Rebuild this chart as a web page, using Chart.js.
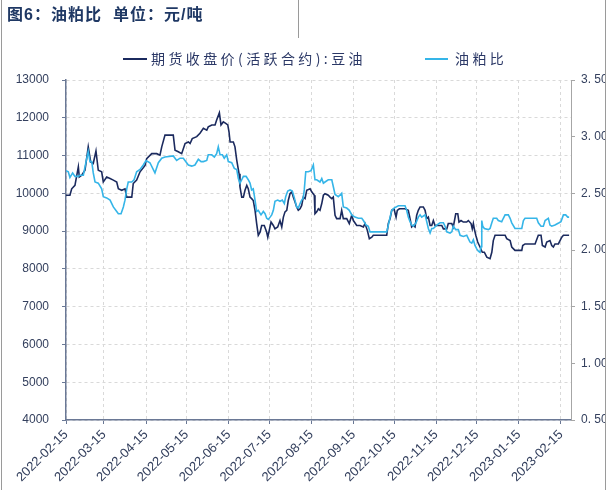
<!DOCTYPE html>
<html>
<head>
<meta charset="utf-8">
<script src="https://cdn.jsdelivr.net/npm/chart.js@4"></script>
<style>
  html, body { margin: 0; padding: 0; background: #fff; }
  #wrap { width: 607px; height: 490px; }
</style>
</head>
<body>
<div id="wrap"><canvas id="chart" width="607" height="490"></canvas></div>
<script>
// days counted from 2022-02-15
const tickDays = [0, 28, 59, 89, 120, 150, 181, 212, 242, 273, 303, 334, 365];
const tickLabels = ["2022-02-15", "2022-03-15", "2022-04-15", "2022-05-15", "2022-06-15",
  "2022-07-15", "2022-08-15", "2022-09-15", "2022-10-15", "2022-11-15", "2022-12-15",
  "2023-01-15", "2023-02-15"];

// 期货收盘价(活跃合约):豆油, 元/吨
const oilDays = [0, 2.9, 4.2, 6.6, 9.1, 9.8, 11.6, 14.0, 16.4, 18.2,
  20.1, 22.1, 23.8, 26.3, 27.5, 30.0, 32.5, 34.9, 37.4, 38.6,
  41.1, 43.5, 44.8, 48.5, 49.6, 52.1, 54.6, 58.3, 59.5, 63.2,
  66.9, 69.3, 70.6, 73.0, 79.1, 80.4, 82.8, 85.3, 87.8, 90.2,
  91.5, 93.1, 96.4, 98.8, 101.3, 103.8, 104.9, 107.5, 109.9, 111.1,
  113.1, 114.3, 116.0, 117.8, 119.3, 120.2, 121.0, 123.4, 124.6, 125.9,
  127.6, 128.3, 129.6, 130.8, 132.0, 133.3, 134.4, 135.7, 136.9, 138.1,
  139.4, 140.6, 141.8, 143.1, 144.3, 146.2, 148.0, 148.8, 149.9, 151.2,
  152.9, 154.1, 156.1, 157.8, 159.1, 160.3, 161.5, 162.8, 163.9, 165.2,
  166.5, 167.6, 168.9, 170.1, 171.3, 172.6, 173.8, 175.0, 176.3, 177.5,
  180.0, 181.2, 183.1, 183.6, 184.9, 186.1, 187.3, 188.6, 189.8, 191.0,
  193.4, 194.7, 196.0, 197.1, 198.4, 199.6, 202.1, 203.3, 204.5, 207.0,
  208.9, 210.7, 211.9, 214.4, 216.8, 219.3, 220.5, 222.2, 223.7, 225.5,
  226.6, 236.5, 237.7, 239.0, 240.2, 241.9, 243.4, 244.3, 245.8, 250.0,
  252.4, 253.7, 254.9, 256.1, 257.4, 258.6, 259.8, 261.1, 263.5, 264.8,
  266.0, 267.2, 268.5, 269.7, 270.9, 272.1, 274.6, 277.1, 278.3, 280.8,
  281.9, 284.5, 285.6, 287.4, 288.9, 289.8, 291.3, 293.0, 295.5, 296.7,
  298.7, 299.6, 300.4, 301.1, 302.2, 303.6, 305.3, 307.0, 308.5, 310.3,
  312.7, 314.0, 315.1, 316.4, 323.8, 325.0, 327.5, 328.7, 331.1, 336.1,
  336.8, 338.5, 345.9, 348.3, 350.3, 351.3, 353.3, 354.5, 356.9, 358.2,
  359.4, 360.6, 363.1, 364.3, 365.6, 366.8, 370.0, 371.0];
const oilPrice = [9950, 9950, 10120, 10210, 10700, 10430, 10480, 10610, 11230, 10830,
  10790, 11120, 10610, 10570, 10300, 10430, 10390, 10350, 10300, 10120,
  10080, 10120, 9900, 9900, 10260, 10350, 10570, 10740, 10920, 11050,
  11050, 11010, 11230, 11540, 11540, 11140, 11100, 11050, 11320, 11360,
  11320, 11450, 11500, 11590, 11720, 11670, 11760, 11810, 11810, 11940,
  12130, 11810, 11890, 11850, 11810, 11630, 11360, 11360, 11230, 10880,
  10520, 10170, 9900, 9900, 10080, 10210, 10120, 9900, 9860, 9810,
  9550, 9200, 8890, 8970, 9150, 9150, 8970, 8840, 9020, 9240,
  9150, 9060, 9110, 9280, 9110, 9370, 9510, 9550, 9810, 9990,
  10040, 9900, 9770, 9640, 9550, 9590, 9680, 9900, 9860, 10080,
  10120, 10040, 9950, 9460, 9510, 9590, 9550, 9730, 9950, 9990,
  9950, 9900, 9860, 9900, 9420, 9330, 9330, 9550, 9330, 9330,
  9200, 9420, 9280, 9150, 9150, 9110, 9200, 9020, 8800, 8840,
  8890, 8890, 9200, 9330, 9550, 9590, 9370, 9550, 9590, 9590,
  9550, 9330, 9110, 9150, 9110, 9420, 9550, 9640, 9640, 9550,
  9330, 9370, 9150, 9150, 9280, 9150, 9150, 9150, 9060, 9060,
  9200, 9200, 9110, 9460, 9460, 9240, 9280, 9240, 9240, 9280,
  9200, 9060, 9200, 9060, 8890, 8710, 8580, 8440, 8440, 8310,
  8270, 8440, 8750, 8890, 8890, 8800, 8750, 8580, 8490, 8490,
  8620, 8660, 8660, 8890, 8890, 8620, 8580, 8710, 8750, 8620,
  8580, 8660, 8660, 8750, 8840, 8890, 8890, 8890];

// 油粕比 (right axis)
const ratioDays = [0, 1.7, 2.9, 4.9, 6.6, 9.1, 10.3, 12.8, 14.8, 16.4,
  17.7, 19.0, 20.1, 21.4, 23.8, 26.3, 27.5, 30.0, 32.5, 34.9,
  37.4, 38.6, 40.6, 42.3, 43.5, 44.8, 45.9, 48.5, 50.2, 52.1,
  54.6, 57.0, 59.0, 61.9, 64.4, 65.6, 68.1, 70.6, 73.0, 79.1,
  81.6, 84.1, 86.5, 90.2, 92.7, 95.1, 97.6, 99.6, 101.3, 103.8,
  104.9, 107.5, 109.4, 111.1, 112.3, 113.6, 115.3, 116.7, 118.5, 119.7,
  122.2, 124.1, 125.9, 127.1, 128.3, 129.6, 130.8, 132.8, 134.4, 135.7,
  136.9, 138.1, 139.4, 140.6, 141.8, 143.8, 145.5, 146.8, 148.0, 149.2,
  150.5, 151.7, 152.9, 154.1, 156.1, 157.8, 159.5, 161.0, 162.0, 163.5,
  165.2, 166.9, 168.4, 170.1, 171.3, 172.6, 173.8, 175.0, 175.7, 176.8,
  178.7, 180.7, 182.4, 183.6, 184.9, 187.3, 188.6, 189.8, 191.0, 193.4,
  196.0, 197.1, 198.4, 200.8, 203.3, 204.5, 207.0, 208.9, 210.7, 213.1,
  215.6, 218.1, 219.3, 221.3, 222.9, 224.2, 236.5, 237.7, 239.0, 240.2,
  241.9, 245.1, 250.0, 251.2, 252.4, 253.7, 254.9, 256.1, 258.1, 259.8,
  261.1, 262.3, 264.8, 266.0, 267.2, 268.5, 269.7, 270.9, 273.4, 275.8,
  278.3, 279.5, 280.8, 283.2, 284.5, 285.6, 287.4, 289.3, 290.6, 293.0,
  295.5, 296.7, 297.9, 299.2, 300.4, 301.6, 302.9, 304.1, 305.3, 306.1,
  306.6, 307.3, 308.5, 311.5, 312.7, 314.0, 315.1, 317.6, 318.8, 321.3,
  322.5, 323.8, 326.2, 327.5, 328.7, 331.1, 336.1, 337.3, 338.5, 347.1,
  348.3, 350.3, 352.0, 353.3, 355.7, 356.9, 358.2, 360.6, 363.6, 365.0,
  366.8, 368.5, 370.0, 371.0];
const ratio = [2.70, 2.69, 2.64, 2.68, 2.65, 2.65, 2.66, 2.66, 2.78, 2.87,
  2.78, 2.78, 2.68, 2.60, 2.59, 2.54, 2.47, 2.46, 2.44, 2.38,
  2.34, 2.32, 2.32, 2.38, 2.44, 2.54, 2.60, 2.60, 2.62, 2.69,
  2.71, 2.75, 2.79, 2.77, 2.71, 2.68, 2.77, 2.81, 2.82, 2.83,
  2.79, 2.81, 2.81, 2.75, 2.74, 2.75, 2.80, 2.78, 2.78, 2.79,
  2.84, 2.84, 2.82, 2.85, 2.91, 2.84, 2.84, 2.81, 2.84, 2.78,
  2.77, 2.72, 2.71, 2.63, 2.59, 2.62, 2.65, 2.65, 2.62, 2.59,
  2.53, 2.54, 2.44, 2.34, 2.35, 2.31, 2.34, 2.32, 2.28, 2.27,
  2.29, 2.31, 2.35, 2.43, 2.44, 2.43, 2.44, 2.41, 2.47, 2.52,
  2.53, 2.52, 2.46, 2.38, 2.37, 2.41, 2.44, 2.46, 2.53, 2.69,
  2.69, 2.70, 2.75, 2.62, 2.62, 2.60, 2.63, 2.59, 2.60, 2.62,
  2.62, 2.56, 2.49, 2.47, 2.50, 2.38, 2.37, 2.35, 2.31, 2.29,
  2.28, 2.28, 2.26, 2.22, 2.21, 2.16, 2.16, 2.22, 2.29, 2.35,
  2.37, 2.39, 2.39, 2.35, 2.29, 2.25, 2.22, 2.21, 2.24, 2.29,
  2.31, 2.29, 2.31, 2.25, 2.19, 2.15, 2.19, 2.19, 2.22, 2.24,
  2.24, 2.21, 2.16, 2.15, 2.16, 2.21, 2.18, 2.18, 2.13, 2.12,
  2.13, 2.10, 2.07, 2.06, 2.09, 2.04, 2.01, 1.99, 1.98, 2.03,
  2.26, 2.21, 2.19, 2.18, 2.19, 2.24, 2.28, 2.28, 2.26, 2.25,
  2.28, 2.31, 2.31, 2.28, 2.24, 2.19, 2.19, 2.26, 2.28, 2.28,
  2.24, 2.21, 2.21, 2.26, 2.28, 2.22, 2.21, 2.22, 2.24, 2.25,
  2.31, 2.31, 2.29, 2.29];

const NAVY = "#1b2a5e";
const SKY = "#35b5e8";
const AXIS = "#6a7895";
const TXT = "#34405e";
const GRID = "#d9d9d9";
const FONT = "'Liberation Sans', 'Noto Sans CJK SC', sans-serif";

const toPoints = (xs, ys) => xs.map((x, i) => ({ x: x, y: ys[i] }));

// title, legend and frame drawn by hand
const decor = {
  id: "decor",
  afterDraw(chart) {
    const ctx = chart.ctx;
    ctx.save();
    ctx.fillStyle = "#1f3864";
    ctx.font = "bold 16px 'Liberation Sans', 'Noto Sans CJK SC', sans-serif";
    ctx.textBaseline = "alphabetic";
    ctx.letterSpacing = "1px";
    ctx.fillText("图6：油粕比", 7, 20);
    ctx.fillText("单位：元/吨", 113, 20);

    ctx.font = "14px 'Noto Sans CJK SC', sans-serif";
    ctx.textBaseline = "middle";
    ctx.letterSpacing = "3.4px";
    ctx.fillStyle = "#2b3866";
    ctx.lineWidth = 2;
    ctx.strokeStyle = NAVY;
    ctx.beginPath(); ctx.moveTo(123, 59); ctx.lineTo(147, 59); ctx.stroke();
    ctx.fillText("期货收盘价(活跃合约):豆油", 151, 59);
    ctx.strokeStyle = SKY;
    ctx.beginPath(); ctx.moveTo(425, 59); ctx.lineTo(448, 59); ctx.stroke();
    ctx.fillText("油粕比", 455, 59);

    ctx.fillStyle = "#fff";
    ctx.fillRect(606, 0, 1, 490);
    ctx.strokeStyle = "#9a9a9a";
    ctx.lineWidth = 1;
    ctx.beginPath();
    ctx.moveTo(1.5, 0); ctx.lineTo(1.5, 490);
    ctx.moveTo(605.5, 0); ctx.lineTo(605.5, 490);
    ctx.moveTo(298.5, 0); ctx.lineTo(298.5, 38);
    ctx.stroke();
    ctx.restore();
  }
};

new Chart(document.getElementById("chart"), {
  type: "line",
  data: {
    datasets: [
      {
        label: "期货收盘价(活跃合约):豆油",
        data: toPoints(oilDays, oilPrice),
        yAxisID: "y",
        borderColor: NAVY,
        borderWidth: 1.6,
        pointRadius: 0,
        tension: 0,
        order: 1,
      },
      {
        label: "油粕比",
        data: toPoints(ratioDays, ratio),
        yAxisID: "y1",
        borderColor: SKY,
        borderWidth: 1.6,
        pointRadius: 0,
        tension: 0,
        order: 0,
      },
    ],
  },
  options: {
    responsive: false,
    animation: false,
    devicePixelRatio: 1,
    layout: { padding: { top: 80, left: 0, right: 0, bottom: 0 } },
    plugins: {
      legend: { display: false },
      tooltip: { enabled: false },
    },
    scales: {
      x: {
        type: "linear",
        min: 0,
        max: 372.4,
        afterBuildTicks: (s) => { s.ticks = tickDays.map((v) => ({ value: v })); },
        afterFit: (s) => { s.height = 70; },
        ticks: {
          autoSkip: false,
          minRotation: 45,
          maxRotation: 45,
          padding: 3,
          color: TXT,
          font: { family: FONT, size: 13 },
          callback: (v, i) => tickLabels[i],
        },
        grid: { color: GRID, tickLength: 4, tickColor: AXIS, borderDash: [3, 3] },
        border: { color: AXIS, width: 1.5, dash: [3, 3] },
      },
      y: {
        position: "left",
        min: 4000,
        max: 13000,
        afterFit: (s) => { s.width = 66; },
        ticks: {
          stepSize: 1000,
          padding: 13,
          color: TXT,
          font: { family: FONT, size: 12 },
          callback: (v) => String(v),
        },
        grid: { color: GRID, tickLength: 4, tickColor: AXIS, borderDash: [3, 3] },
        border: { color: AXIS, width: 1.5, dash: [3, 3] },
      },
      y1: {
        position: "right",
        min: 0.5,
        max: 3.5,
        afterFit: (s) => { s.width = 36; },
        ticks: {
          stepSize: 0.5,
          padding: 6,
          color: TXT,
          font: { family: FONT, size: 12 },
          callback: (v) => v.toFixed(2).replace(".", ". "),
        },
        grid: { drawOnChartArea: false, tickLength: 4, tickColor: "#a6a6a6" },
        border: { color: "#a6a6a6", width: 1 },
      },
    },
  },
  plugins: [decor],
});
</script>
</body>
</html>
